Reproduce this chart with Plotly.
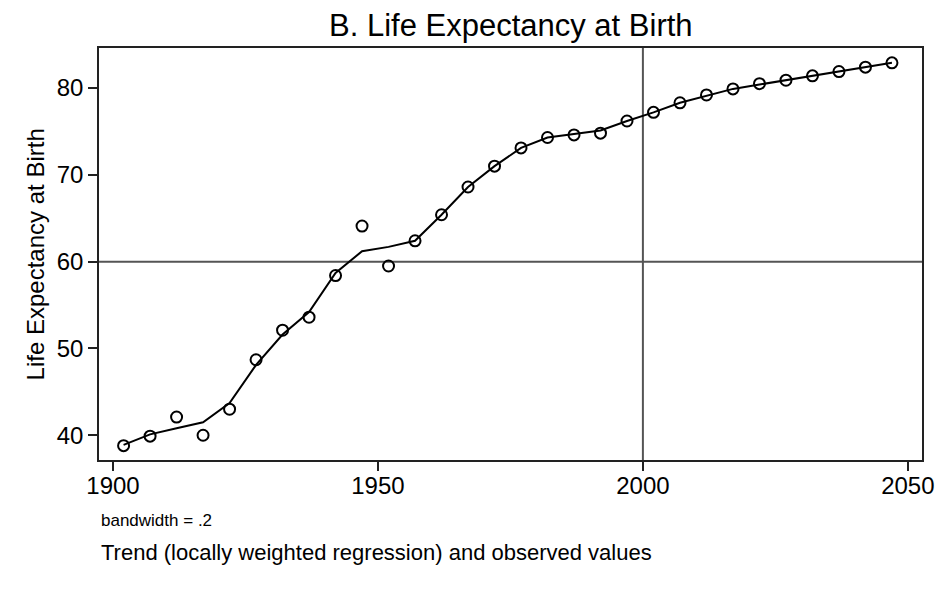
import plotly.graph_objects as go

years = [1902, 1907, 1912, 1917, 1922, 1927, 1932, 1937, 1942, 1947,
         1952, 1957, 1962, 1967, 1972, 1977, 1982, 1987, 1992, 1997,
         2002, 2007, 2012, 2017, 2022, 2027, 2032, 2037, 2042, 2047]
observed = [38.8, 39.9, 42.1, 40.0, 43.0, 48.7, 52.1, 53.6, 58.4, 64.1,
            59.5, 62.4, 65.4, 68.6, 71.0, 73.1, 74.3, 74.6, 74.8, 76.2,
            77.2, 78.3, 79.2, 79.9, 80.5, 80.9, 81.4, 81.9, 82.4, 82.9]
trend = [38.9, 40.1, 40.8, 41.5, 43.7, 48.1, 51.6, 54.2, 58.7, 61.2,
         61.7, 62.4, 65.4, 68.6, 71.0, 73.1, 74.3, 74.7, 75.1, 76.2,
         77.2, 78.3, 79.1, 79.9, 80.4, 80.9, 81.4, 81.9, 82.4, 82.9]
x_ticks = [1900, 1950, 2000, 2050]
y_ticks = [40, 50, 60, 70, 80]
ref_year = 2000
ref_life = 60

FONT = "Liberation Sans, Arial, sans-serif"

fig = go.Figure()
fig.add_trace(go.Scatter(x=years, y=trend, mode="lines",
                         line=dict(color="black", width=2), showlegend=False))
fig.add_trace(go.Scatter(x=years, y=observed, mode="markers",
                         marker=dict(symbol="circle-open", size=11, color="black",
                                     line=dict(width=2, color="black")),
                         showlegend=False))

fig.add_shape(type="line", xref="x", yref="paper", x0=ref_year, x1=ref_year, y0=0, y1=1,
              line=dict(color="#555555", width=2), layer="below")
fig.add_shape(type="line", xref="paper", yref="y", x0=0, x1=1, y0=ref_life, y1=ref_life,
              line=dict(color="#555555", width=2), layer="below")

axis_common = dict(showgrid=False, zeroline=False, showline=True, linecolor="#222222",
                   linewidth=1.5, mirror=True, ticks="outside", ticklen=9,
                   tickwidth=1.5, tickcolor="#222222", automargin=False,
                   tickfont=dict(family=FONT, size=24, color="black"))

fig.update_layout(
    width=940, height=596,
    margin=dict(l=99, r=18, t=48, b=136),
    paper_bgcolor="white", plot_bgcolor="white",
    xaxis=dict(range=[1897.36, 2052.67], tickvals=x_ticks, ticklabelstandoff=-6,
               **axis_common),
    yaxis=dict(range=[37.15, 84.61], tickvals=y_ticks, **axis_common),
    annotations=[
        dict(text="B. Life Expectancy at Birth", xref="paper", yref="paper",
             x=0.5, y=1.0558, xanchor="center", yanchor="middle", showarrow=False,
             font=dict(family=FONT, size=31, color="black")),
        dict(text="Life Expectancy at Birth", xref="paper", yref="paper",
             x=-0.0773, y=0.5, xanchor="center", yanchor="middle", showarrow=False,
             textangle=-90, font=dict(family=FONT, size=24, color="black")),
        dict(text="bandwidth = .2", xref="paper", yref="paper",
             x=0.0, y=-0.148, xanchor="left", yanchor="middle", showarrow=False,
             font=dict(family=FONT, size=17, color="black")),
        dict(text="Trend (locally weighted regression) and observed values",
             xref="paper", yref="paper",
             x=0.0, y=-0.2257, xanchor="left", yanchor="middle", showarrow=False,
             font=dict(family=FONT, size=22, color="black")),
    ],
)

fig.write_html("out.html", config={"displayModeBar": False},
               post_script="document.body.style.margin='0';document.body.style.padding='0';")
